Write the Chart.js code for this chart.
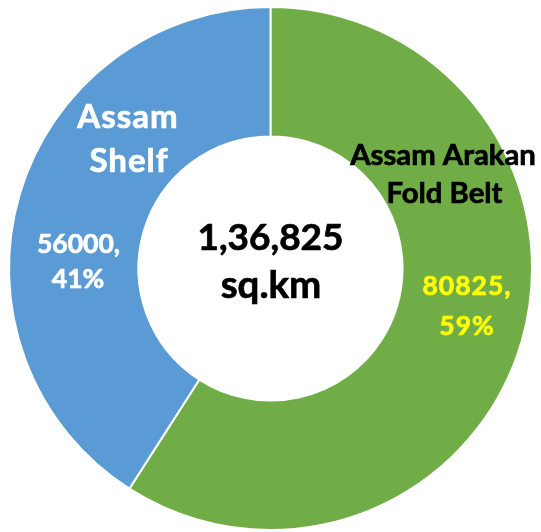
<!DOCTYPE html>
<html lang="en">
<head>
    <meta charset="UTF-8">
    <title>Assam Basin Area</title>
    <script src="https://cdn.jsdelivr.net/npm/chart.js"></script>
    <style>
        html, body { margin: 0; padding: 0; background: #fff; }
        #wrap { width: 541px; height: 532px; }
    </style>
</head>
<body>
    <div id="wrap"><canvas id="chart"></canvas></div>
    <script>
        // Datos
        const categories = ['Assam Arakan Fold Belt', 'Assam Shelf'];
        const areas = [80825, 56000];
        const percents = ['59%', '41%'];
        const totalLabel = ['1,36,825', 'sq.km'];
        const colors = ['#70AD47', '#5B9BD5'];

        const FONT = 'Lato, "Open Sans", sans-serif';

        // Textos sobre el anillo, desplazamientos en px relativos al centro (radio de referencia 261.5)
        const labelPlugin = {
            id: 'ringLabels',
            afterDatasetsDraw(chart) {
                const arc = chart.getDatasetMeta(0).data[0];
                if (!arc) return;
                const cx = arc.x, cy = arc.y, k = arc.outerRadius / 261.5;
                const ctx = chart.ctx;
                ctx.save();
                ctx.textAlign = 'center';
                ctx.textBaseline = 'alphabetic';
                ctx.lineJoin = 'round';

                function txt(s, dx, dy, size, color, spacing) {
                    ctx.font = 'bold ' + size + 'px ' + FONT;
                    ctx.fillStyle = color;
                    ctx.strokeStyle = color;
                    ctx.lineWidth = 0.7;
                    ctx.letterSpacing = (spacing || 0) + 'px';
                    const x = cx + dx * k + (spacing || 0) / 2, y = cy + dy * k;
                    ctx.fillText(s, x, y);
                    ctx.strokeText(s, x, y);
                }

                // centro
                txt(totalLabel[0], 0, -18.5, 37, '#000');
                txt(totalLabel[1], 0.5, 29.5, 38.5, '#000');

                // Assam Shelf (azul)
                txt('Assam', -143, -140.5, 33, '#fff', 1);
                txt('Shelf', -142, -96.5, 33, '#fff', 1);
                txt(areas[1] + ',', -192, -15.5, 26.5, '#fff');
                txt(percents[1], -192.5, 19.5, 26.5, '#fff');

                // Assam Arakan Fold Belt (verde)
                txt('Assam Arakan', 172.5, -103.5, 29.3, '#000');
                txt('Fold Belt', 174, -66, 29.3, '#000');
                txt(areas[0] + ',', 196, 26.5, 26.5, '#FFFF00', 1);
                txt(percents[0], 196, 66.5, 26.5, '#FFFF00', 1);

                ctx.restore();
            }
        };

        const ctx = document.getElementById('chart').getContext('2d');
        const chart = new Chart(ctx, {
            type: 'doughnut',
            data: {
                labels: categories,
                datasets: [{
                    data: areas,
                    backgroundColor: colors,
                    borderColor: '#fff',
                    borderWidth: 2
                }]
            },
            options: {
                responsive: true,
                maintainAspectRatio: false,
                animation: false,
                cutout: '50.5%',
                layout: {
                    padding: { top: 6, bottom: 1, left: 8, right: 8 }
                },
                plugins: {
                    legend: { display: false },
                    tooltip: { enabled: false }
                }
            },
            plugins: [labelPlugin]
        });
    </script>
</body>
</html>
